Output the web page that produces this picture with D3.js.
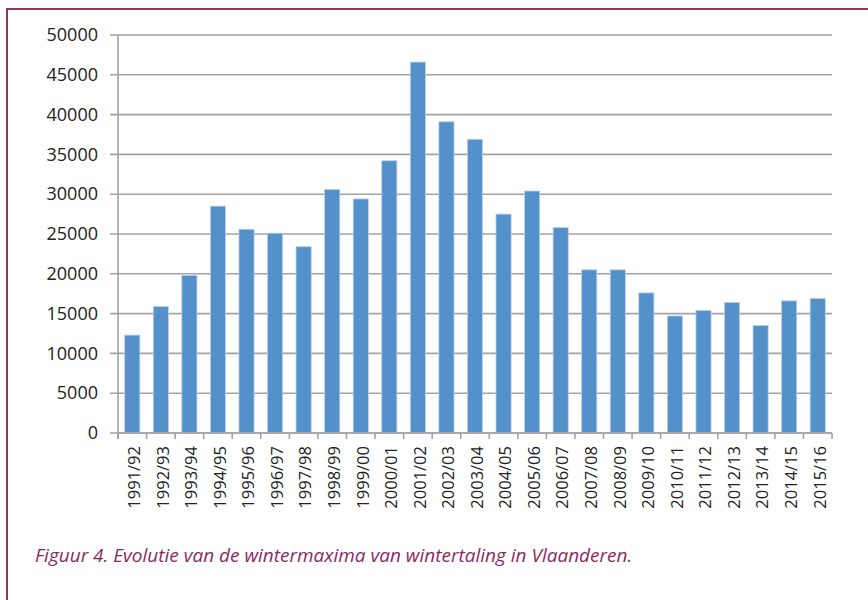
<!DOCTYPE html>
<html>
<head>
<meta charset="utf-8">
<script src="https://cdn.jsdelivr.net/npm/d3@7"></script>
<style>
  body { margin: 0; background: #fff; }
  svg { display: block; }
</style>
</head>
<body>
<div id="chart"></div>
<script>
// Chart data
const seasons = ["1991/92", "1992/93", "1993/94", "1994/95", "1995/96", "1996/97", "1997/98",
  "1998/99", "1999/00", "2000/01", "2001/02", "2002/03", "2003/04", "2004/05", "2005/06",
  "2006/07", "2007/08", "2008/09", "2009/10", "2010/11", "2011/12", "2012/13", "2013/14",
  "2014/15", "2015/16"];
const maxima = [12300, 15900, 19800, 28500, 25600, 25100, 23400, 30600, 29400, 34200, 46600,
  39100, 36900, 27500, 30400, 25800, 20500, 20500, 17600, 14700, 15400, 16400, 13500, 16600, 16900];
const yTicks = [0, 5000, 10000, 15000, 20000, 25000, 30000, 35000, 40000, 45000, 50000];
const caption = "Figuur 4. Evolutie van de wintermaxima van wintertaling in Vlaanderen.";

const W = 868, H = 600;
const plot = { left: 118, right: 832, top: 35, bottom: 433 };

const svg = d3.select("#chart").append("svg")
  .attr("width", W)
  .attr("height", H);

svg.append("rect").attr("width", W).attr("height", H).attr("fill", "#fff");

// Frame (left and top only)
svg.append("path")
  .attr("d", `M7,${H} L7,9 L${W},9`)
  .attr("fill", "none")
  .attr("stroke", "#8e3568")
  .attr("stroke-width", 2);

const x = d3.scaleBand()
  .domain(seasons)
  .range([plot.left, plot.right]);

const y = d3.scaleLinear()
  .domain([0, 50000])
  .range([plot.bottom, plot.top]);

const gridColor = "#a3a3a3";

// Gridlines with left tick marks
svg.append("g")
  .selectAll("line")
  .data(yTicks)
  .join("line")
    .attr("x1", plot.left - 8)
    .attr("x2", plot.right)
    .attr("y1", d => y(d))
    .attr("y2", d => y(d))
    .attr("stroke", gridColor)
    .attr("stroke-width", 1.6);

// Y axis labels
const yAxis = svg.append("g")
  .attr("transform", `translate(${plot.left},0)`)
  .call(d3.axisLeft(y).tickValues(yTicks).tickFormat(d3.format("d")).tickSize(0).tickPadding(20));
yAxis.select(".domain").remove();
yAxis.selectAll("text")
  .attr("fill", "#222")
  .style("font-family", "'Open Sans', sans-serif")
  .style("font-size", "18px");

// Bars
const barW = x.bandwidth() * 0.53;
svg.append("g")
  .selectAll("rect")
  .data(maxima)
  .join("rect")
    .attr("x", (d, i) => x(seasons[i]) + (x.bandwidth() - barW) / 2)
    .attr("y", d => y(d))
    .attr("width", barW)
    .attr("height", d => y(0) - y(d))
    .attr("fill", "#5490c9")
    .attr("stroke", "#b9d0ea")
    .attr("stroke-width", 0.8);

// Axis lines
svg.append("line")
  .attr("x1", plot.left).attr("x2", plot.left)
  .attr("y1", plot.top).attr("y2", plot.bottom + 6)
  .attr("stroke", gridColor).attr("stroke-width", 1.6);

svg.append("line")
  .attr("x1", plot.left).attr("x2", plot.right)
  .attr("y1", plot.bottom).attr("y2", plot.bottom)
  .attr("stroke", gridColor).attr("stroke-width", 1.6);

// X tick marks at band edges
const edges = seasons.map(s => x(s)).concat([plot.right]);
svg.append("g")
  .selectAll("line")
  .data(edges)
  .join("line")
    .attr("x1", d => d).attr("x2", d => d)
    .attr("y1", plot.bottom).attr("y2", plot.bottom + 6)
    .attr("stroke", gridColor)
    .attr("stroke-width", 1.6);

// X labels, rotated
svg.append("g")
  .selectAll("text")
  .data(seasons)
  .join("text")
    .attr("transform", d => `translate(${x(d) + x.bandwidth() / 2 + 2},${plot.bottom + 13}) rotate(-90)`)
    .attr("text-anchor", "end")
    .attr("dy", "0.35em")
    .attr("fill", "#222")
    .style("font-family", "'Open Sans', sans-serif")
    .style("font-size", "16.5px")
    .text(d => d);

// Caption
svg.append("text")
  .attr("x", 35)
  .attr("y", 562)
  .attr("fill", "#8a2a62")
  .style("font-family", "'Open Sans', sans-serif")
  .style("font-style", "italic")
  .style("font-size", "19px")
  .text(caption);
</script>
</body>
</html>
